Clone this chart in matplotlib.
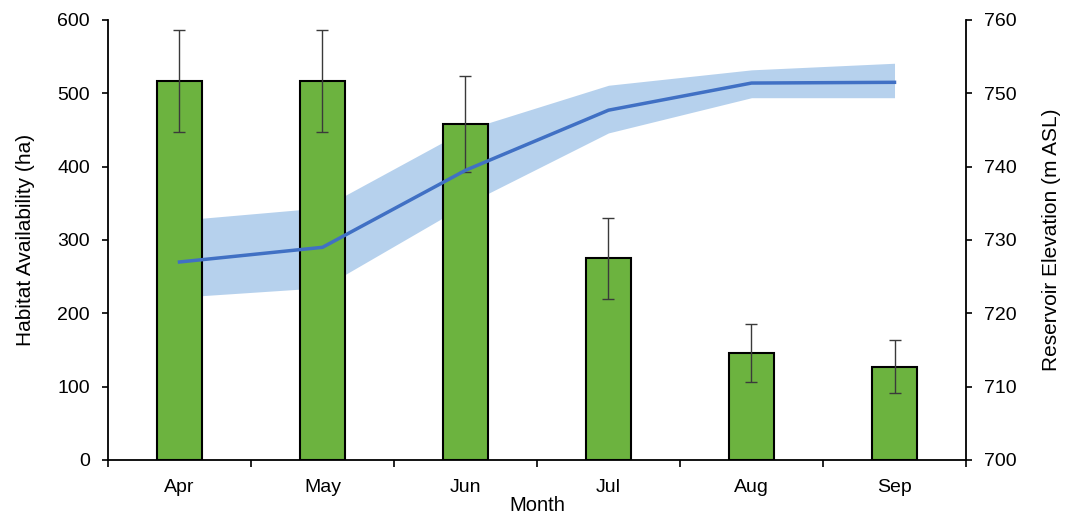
import numpy as np
import matplotlib
matplotlib.use("Agg")
import matplotlib.pyplot as plt

plt.rcParams['font.family'] = ['Liberation Sans', 'DejaVu Sans']

months = ["Apr", "May", "Jun", "Jul", "Aug", "Sep"]
habitat = [517, 517, 458, 275, 146, 127]
habitat_err = [70, 70, 65, 55, 39, 36]
elevation = [727.0, 729.0, 739.5, 747.7, 751.4, 751.5]
elev_low = [722.2, 723.5, 734.8, 744.6, 749.4, 749.4]
elev_high = [732.7, 734.4, 745.0, 751.1, 753.2, 754.1]

x = np.arange(len(months))

fig = plt.figure(figsize=(10.68, 5.19), dpi=100)
ax = fig.add_axes([0.1011, 0.1137, 0.8034, 0.8478])
ax2 = ax.twinx()

# shaded range sits behind the bars, so it goes on ax using ax2's scale
ax.fill_between(x, elev_low, elev_high, color="#a4c6e9", alpha=0.8,
                linewidth=0, zorder=0.5, transform=ax2.transData)

ax.bar(x, habitat, width=0.32, color="#6cb33f", edgecolor="black",
       linewidth=1.5, zorder=2)
ax.errorbar(x, habitat, yerr=habitat_err, fmt="none", ecolor="#3a3a3a",
            elinewidth=1.0, capsize=4, capthick=1.0, zorder=3)

ax2.plot(x, elevation, color="#4070c4", linewidth=2.5, zorder=4)

ax.set_xlim(-0.5, 5.5)
ax.set_ylim(0, 600)
ax2.set_ylim(700, 760)

ax.set_yticks(np.arange(0, 601, 100))
ax2.set_yticks(np.arange(700, 761, 10))
ax.set_xticks(x)
ax.set_xticklabels(months)
ax.set_xticks(np.arange(-0.5, 5.6, 1.0), minor=True)
ax.tick_params(axis="x", which="major", length=0, pad=14, labelsize=14)
ax.tick_params(axis="x", which="minor", length=5, width=1.2, direction="out")
ax.tick_params(axis="y", length=4, width=1.2, direction="out", labelsize=14, pad=9)
ax2.tick_params(axis="y", length=4, width=1.2, direction="out", labelsize=14, pad=9)

for a in (ax, ax2):
    a.spines["top"].set_visible(False)
    for s in ("left", "right", "bottom"):
        a.spines[s].set_linewidth(1.3)
ax.spines["right"].set_visible(False)
ax2.spines["left"].set_visible(False)
ax2.spines["bottom"].set_visible(False)

ax.set_ylabel("Habitat Availability (ha)", fontsize=15, labelpad=16)
ax2.set_ylabel("Reservoir Elevation (m ASL)", fontsize=15, labelpad=18)
ax.set_xlabel("Month", fontsize=14.5, labelpad=0)

fig.savefig("out.png", dpi=100)
